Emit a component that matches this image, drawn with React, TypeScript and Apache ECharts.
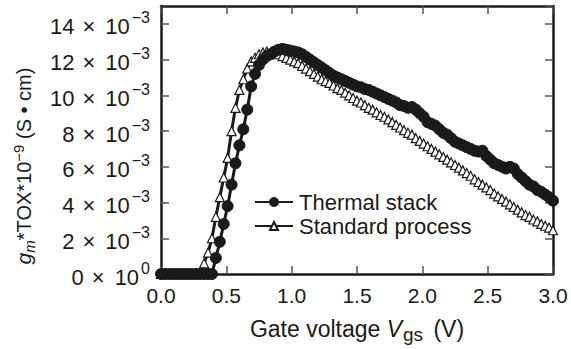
import React, { useEffect, useRef } from "react";
import * as echarts from "echarts";

// Gate voltage sweep (V)
const VGS = [
  0.0, 0.03, 0.06, 0.09, 0.12, 0.15, 0.18, 0.21, 0.24, 0.27, 0.3, 0.33, 0.36, 0.39, 0.42, 0.45, 0.48, 0.51, 0.54, 0.57,
  0.6, 0.63, 0.66, 0.69, 0.72, 0.75, 0.78, 0.81, 0.84, 0.87, 0.9, 0.93, 0.96, 0.99, 1.02, 1.05, 1.08, 1.11, 1.14, 1.17,
  1.2, 1.23, 1.26, 1.29, 1.32, 1.35, 1.38, 1.41, 1.44, 1.47, 1.5, 1.53, 1.56, 1.59, 1.62, 1.65, 1.68, 1.71, 1.74, 1.77,
  1.8, 1.83, 1.86, 1.89, 1.92, 1.95, 1.98, 2.01, 2.04, 2.07, 2.1, 2.13, 2.16, 2.19, 2.22, 2.25, 2.28, 2.31, 2.34, 2.37,
  2.4, 2.43, 2.46, 2.49, 2.52, 2.55, 2.58, 2.61, 2.64, 2.67, 2.7, 2.73, 2.76, 2.79, 2.82, 2.85, 2.88, 2.91, 2.94, 2.97,
  3.0,
];

// gm*TOX*1e-9 in units of 1e-3 (S·cm)
const THERMAL = [
  0, 0, 0, 0, 0, 0, 0, 0, 0, 0, 0, 0, 0, 0, 0.9, 1.8, 2.8, 3.8, 5.0, 6.2,
  7.2, 8.1, 9.2, 10.5, 11.2, 11.7, 12.0, 12.2, 12.3, 12.45, 12.55, 12.6, 12.55, 12.5, 12.45, 12.4, 12.3, 12.15, 12.0, 11.85,
  11.7, 11.55, 11.4, 11.25, 11.1, 11.0, 10.9, 10.8, 10.7, 10.6, 10.5, 10.45, 10.35, 10.3, 10.2, 10.1, 10.0, 9.9, 9.8, 9.7,
  9.6, 9.45, 9.4, 9.3, 9.35, 9.2, 9.0, 8.8, 8.5, 8.4, 8.3, 8.1, 7.9, 7.8, 7.6, 7.4, 7.3, 7.2, 7.1, 7.0,
  6.9, 6.85, 6.9, 6.6, 6.4, 6.2, 6.1, 6.0, 5.9, 6.0, 5.9, 5.6, 5.4, 5.2, 5.0, 4.9, 4.7, 4.6, 4.45, 4.3,
  4.1,
];

const STANDARD = [
  0, 0, 0, 0, 0, 0, 0, 0, 0, 0, 0, 0.6, 1.2, 2.0, 3.2, 4.3, 5.4, 6.5, 8.0, 9.3,
  10.3, 10.9, 11.5, 11.9, 12.1, 12.3, 12.4, 12.45, 12.4, 12.35, 12.3, 12.2, 12.1, 12.0, 11.9, 11.8, 11.65, 11.5, 11.35, 11.2,
  11.05, 10.9, 10.8, 10.7, 10.55, 10.4, 10.3, 10.15, 10.0, 9.85, 9.7, 9.6, 9.45, 9.3, 9.2, 9.05, 8.9, 8.8, 8.65, 8.5,
  8.35, 8.2, 8.05, 7.9, 7.8, 7.6, 7.45, 7.3, 7.15, 7.0, 6.85, 6.7, 6.55, 6.4, 6.25, 6.1, 5.95, 5.8, 5.65, 5.5,
  5.3, 5.15, 5.0, 4.85, 4.7, 4.5, 4.35, 4.2, 4.05, 3.9, 3.75, 3.6, 3.45, 3.3, 3.2, 3.05, 2.95, 2.8, 2.7, 2.6,
  2.45,
];

const SERIES_NAMES = ["Thermal stack", "Standard process"];
const FONT = "'Liberation Sans', Arial, Helvetica, sans-serif";
const INK = "#1a1a1a";

export default function App() {
  const ref = useRef<HTMLDivElement>(null);
  useEffect(() => {
    if (!ref.current) return;
    const chart = echarts.init(ref.current, null, { renderer: "svg" });
    const frame = { show: true, onZero: false, lineStyle: { color: INK, width: 2.5 } };
    const ticks = { show: true, inside: true, length: 8, lineStyle: { color: "#555", width: 1.5 } };
    chart.setOption({
      animation: false,
      backgroundColor: "#fff",
      textStyle: { fontFamily: FONT },
      grid: { left: 161, right: 18, top: 6, bottom: 71, containLabel: false },
      legend: {
        orient: "vertical",
        left: 249,
        top: 186,
        itemWidth: 38,
        itemHeight: 10,
        itemGap: 2,
        data: SERIES_NAMES,
        textStyle: { fontSize: 22, color: INK, fontFamily: FONT, padding: [0, 0, 0, 1] },
      },
      xAxis: [
        {
          type: "value",
          min: 0,
          max: 3,
          interval: 0.5,
          position: "bottom",
          axisLine: frame,
          axisTick: ticks,
          splitLine: { show: false },
          axisLabel: {
            fontSize: 21,
            color: INK,
            margin: 11,
            fontFamily: FONT,
            formatter: (v: number) => v.toFixed(1),
          },
          name: "{t|Gate voltage }{v|V}{s|gs}{t| (V)}",
          nameLocation: "middle",
          nameGap: 39,
          nameTextStyle: {
            fontSize: 23,
            color: INK,
            fontFamily: FONT,
            rich: {
              t: { fontSize: 23, color: INK, fontFamily: FONT },
              v: { fontSize: 23, fontStyle: "italic", color: INK, fontFamily: FONT },
              s: { fontSize: 19, color: INK, fontFamily: FONT, padding: [12, 4, 0, 1] },
            },
          },
        },
        {
          type: "value",
          min: 0,
          max: 3,
          interval: 0.5,
          position: "top",
          axisLine: frame,
          axisTick: ticks,
          axisLabel: { show: false },
          splitLine: { show: false },
        },
      ],
      yAxis: [
        {
          type: "value",
          min: 0,
          max: 15,
          interval: 2,
          position: "left",
          axisLine: frame,
          axisTick: ticks,
          splitLine: { show: false },
          axisLabel: {
            margin: 11,
            showMaxLabel: false,
            formatter: (v: number) =>
              v === 0 ? "{a|0}{x|×}{a|10}{s|0}" : "{a|" + v + "}{x|×}{a|10}{s|−3}",
            rich: {
              a: { fontSize: 22, color: INK, fontFamily: FONT, padding: [6, 0, 0, 0] },
              x: { fontSize: 22, color: INK, fontFamily: FONT, padding: [6, 10, 0, 8] },
              s: { fontSize: 16, color: INK, fontFamily: FONT, padding: [0, 0, 12, 2] },
            },
          },
          name: "{g|g}{m|m}{t|*TOX*10}{s|−9}{t| (S • cm)}",
          nameLocation: "middle",
          nameGap: 124,
          nameTextStyle: {
            padding: [0, 52, 0, 0],
            rich: {
              g: { fontSize: 21, fontStyle: "italic", color: INK, fontFamily: FONT },
              m: { fontSize: 15, fontStyle: "italic", color: INK, fontFamily: FONT, padding: [12, 0, 0, 0] },
              t: { fontSize: 20, color: INK, fontFamily: FONT },
              s: { fontSize: 15, color: INK, fontFamily: FONT, padding: [0, 0, 11, 0] },
            },
          },
        },
        {
          type: "value",
          min: 0,
          max: 15,
          interval: 2,
          position: "right",
          axisLine: frame,
          axisTick: ticks,
          axisLabel: { show: false },
          splitLine: { show: false },
        },
      ],
      series: [
        {
          name: SERIES_NAMES[1],
          type: "line",
          data: VGS.map((x, i) => [x, STANDARD[i]]),
          symbol: "triangle",
          symbolSize: 9,
          showAllSymbol: true,
          lineStyle: { color: INK, width: 3 },
          itemStyle: { color: "#fff", borderColor: INK, borderWidth: 1.2 },
          z: 2,
        },
        {
          name: SERIES_NAMES[0],
          type: "line",
          data: VGS.map((x, i) => [x, THERMAL[i]]),
          symbol: "circle",
          symbolSize: 11,
          showAllSymbol: true,
          lineStyle: { color: INK, width: 3 },
          itemStyle: { color: INK, borderColor: INK, borderWidth: 1 },
          z: 3,
        },
      ],
    });
    return () => chart.dispose();
  }, []);
  return <div ref={ref} style={{ width: 571, height: 349, position: "absolute", left: 0, top: 0 }} />;
}
